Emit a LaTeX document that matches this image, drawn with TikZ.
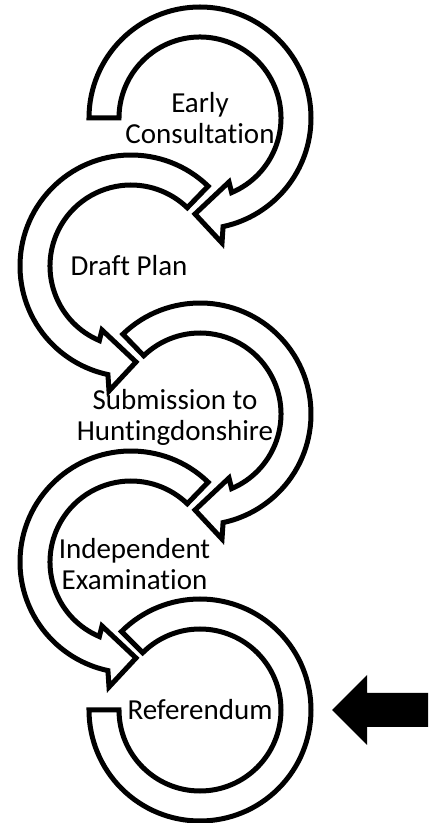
\documentclass[tikz,border=0pt]{standalone}
\usepackage{fontspec}
\setmainfont[Ligatures=NoCommon]{Carlito}
\begin{document}
\begin{tikzpicture}[x=1pt,y=1pt,
  stage/.style={draw, line width=5pt, fill=white},
  lbl/.style={align=center, inner sep=0pt, font=\fontsize{29}{31}\selectfont}]
\useasboundingbox (0,0) rectangle (431,823);
% clockwise stages
\begin{scope}[shift={(200,705)}]
\draw[stage] (180:111) arc[start angle=180, end angle=-78, radius=111] -- (22,-125) -- (-5,-96) -- (29,-64) -- (-67:81) arc[start angle=-67, end angle=180, radius=81] -- cycle;
\end{scope}
\begin{scope}[shift={(200,409)}]
\draw[stage] (134:111) arc[start angle=134, end angle=-78, radius=111] -- (22,-125) -- (-5,-96) -- (29,-64) -- (-67:81) arc[start angle=-67, end angle=134, radius=81] -- cycle;
\end{scope}
% counter-clockwise stages
\begin{scope}[shift={(131,557)}]
\draw[stage] (46:111) arc[start angle=46, end angle=258, radius=111] -- (-22,-125) -- (5,-96) -- (-29,-64) -- (247:81) arc[start angle=247, end angle=46, radius=81] -- cycle;
\end{scope}
\begin{scope}[shift={(131,261)}]
\draw[stage] (46:111) arc[start angle=46, end angle=258, radius=111] -- (-22,-125) -- (5,-96) -- (-29,-64) -- (247:81) arc[start angle=247, end angle=46, radius=81] -- cycle;
\end{scope}
% last stage
\begin{scope}[shift={(200,113)}]
\draw[stage] (135:111) arc[start angle=135, end angle=-180, radius=111] -- (180:81) arc[start angle=-180, end angle=135, radius=81] -- cycle;
\end{scope}
\node[lbl] (early) at (200,704.5) {Early\\Consultation};
\node[lbl] (draft) at (129,557) {Draft Plan};
\node[lbl] (submission) at (175,405.5) {Submission to\\Huntingdonshire};
\node[lbl] (exam) at (134.5,258.5) {Independent\\Examination};
\node[lbl] (referendum) at (200,113) {Referendum};
% pointer to current stage
\fill (332,113) -- (367,148) -- (367,130) -- (428,130) -- (428,96) -- (367,96) -- (367,78) -- cycle;
\end{tikzpicture}
\end{document}
